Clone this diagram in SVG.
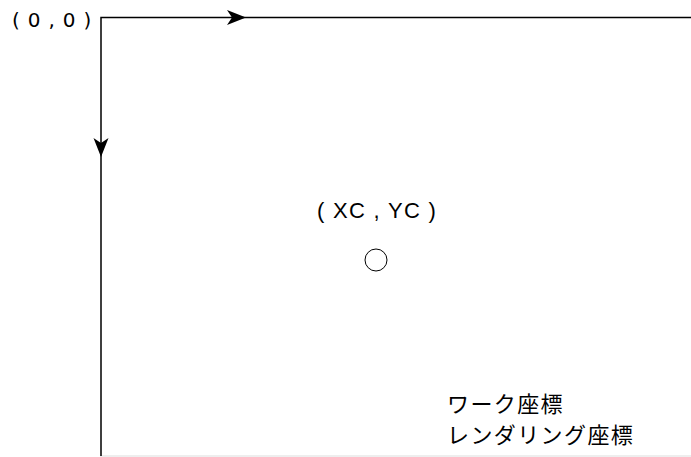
<svg xmlns="http://www.w3.org/2000/svg" width="691" height="457" viewBox="0 0 691 457">
<style>
.ax{stroke:#000;stroke-width:1.5;fill:none}
.t{font-family:"DejaVu Sans",sans-serif;font-size:20px;fill:#000}
.s{font-family:"Liberation Sans",Arial,sans-serif;font-size:22px;fill:#000}
.j{font-family:"Noto Sans CJK JP",sans-serif;font-size:22px;fill:#000}
</style>
<defs>
<path id="ah" d="M0,0 L-19,-7.5 L-14,0 L-19,7.5 Z" fill="#000"/>
</defs>
<rect width="691" height="457" fill="#fff"/>
<line x1="100" y1="456" x2="691" y2="456" stroke="#ddd" stroke-width="1"/>
<g id="connectors">
<path class="ax" d="M101,456 V17.5 H691"/>
<use href="#ah" transform="translate(246,17.5)"/>
<use href="#ah" transform="translate(101,157) rotate(90)"/>
</g>
<g id="origin"><text class="t" x="12" y="27" letter-spacing="0.8">( 0 , 0 )</text></g>
<g id="center">
<text class="s" x="317" y="218" letter-spacing="1.3">( XC , YC )</text>
<circle cx="376" cy="260" r="11" fill="none" stroke="#000" stroke-width="1"/>
</g>
<g id="labels">
<text class="j" x="447" y="412" letter-spacing="1.4">ワーク座標</text>
<text class="j" x="447" y="443" letter-spacing="1.4">レンダリング座標</text>
</g>
</svg>
